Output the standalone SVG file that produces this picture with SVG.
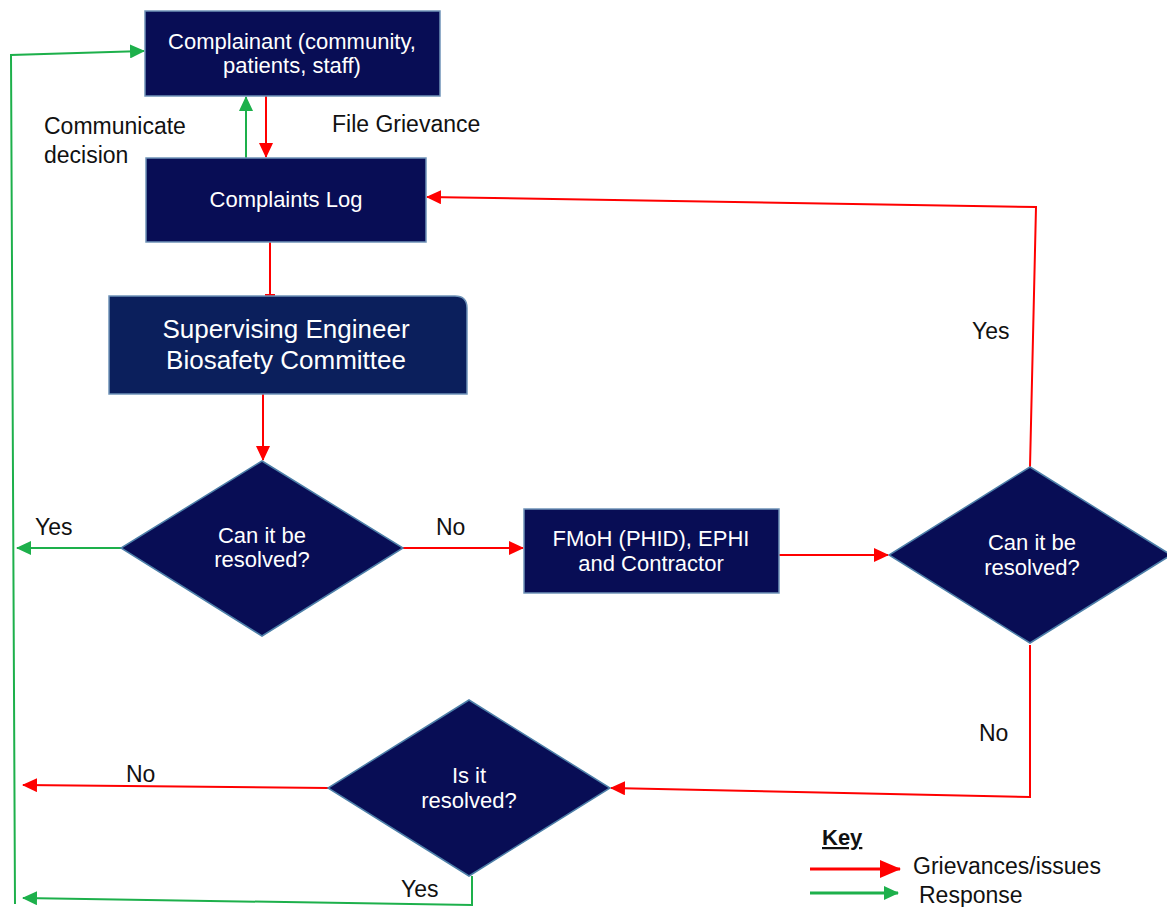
<svg xmlns="http://www.w3.org/2000/svg" width="1167" height="907" viewBox="0 0 1167 907">
<style>
.box{fill:#080D55;stroke:#6F93B8;stroke-width:1.5}
.box2{fill:#0B1F5C;stroke:#6F93B8;stroke-width:1.5}
.dia{fill:#080D55;stroke:#4D7FA8;stroke-width:1.5}
.wt{font-family:"Liberation Sans",Arial,sans-serif;font-size:22px;fill:#FFFFFF;text-anchor:middle}
.lb{font-family:"Liberation Sans",Arial,sans-serif;font-size:23px;fill:#111111}
.red{fill:none;stroke:#FF0000;stroke-width:2}
.grn{fill:none;stroke:#1DB04B;stroke-width:2}
</style>
<defs>
<marker id="ar" markerUnits="userSpaceOnUse" markerWidth="16" markerHeight="14" refX="14" refY="7" orient="auto"><path d="M0,0 L15,7 L0,14 Z" fill="#FF0000"/></marker>
<marker id="ag" markerUnits="userSpaceOnUse" markerWidth="16" markerHeight="14" refX="14" refY="7" orient="auto"><path d="M0,0 L15,7 L0,14 Z" fill="#1DB04B"/></marker>
<marker id="ark" markerUnits="userSpaceOnUse" markerWidth="22" markerHeight="18" refX="20" refY="9" orient="auto"><path d="M0,0 L21,9 L0,18 Z" fill="#FF0000"/></marker>
<marker id="agk" markerUnits="userSpaceOnUse" markerWidth="16" markerHeight="14" refX="14" refY="7" orient="auto"><path d="M0,0 L15,7 L0,14 Z" fill="#1DB04B"/></marker>
</defs>

<g id="connectors">
<path class="grn" d="M246,158 L246,97" marker-end="url(#ag)"/>
<path class="red" d="M266,96 L266,157" marker-end="url(#ar)"/>
<path class="red" d="M270,242 L270,295"/>
<path class="red" d="M265,295 L275,295"/>
<path class="red" d="M263,394 L263,460" marker-end="url(#ar)"/>
<path class="grn" d="M121,548 L17,548" marker-end="url(#ag)"/>
<path class="red" d="M403,548 L523,548" marker-end="url(#ar)"/>
<path class="red" d="M779,555 L888,555" marker-end="url(#ar)"/>
<path class="red" d="M1030,467 L1036,207 L427,197" marker-end="url(#ar)"/>
<path class="red" d="M1030,645 L1030,797 L611,788" marker-end="url(#ar)"/>
<path class="red" d="M328,788 L23,785" marker-end="url(#ar)"/>
<path class="grn" d="M472,876 L472,905 L23,898" marker-end="url(#ag)"/>
<path class="grn" d="M15,904 L11,55 L144,51" marker-end="url(#ag)"/>
</g>

<g id="complainant">
<rect class="box" x="145" y="11" width="295" height="85"/>
<text class="wt" x="292" y="49">Complainant (community,</text>
<text class="wt" x="292" y="73">patients, staff)</text>
</g>
<g id="complaints-log">
<rect class="box" x="146" y="158" width="280" height="84"/>
<text class="wt" x="286" y="207">Complaints Log</text>
</g>
<g id="supervising">
<path class="box2" d="M109,296 L455,296 Q467,296 467,308 L467,394 L109,394 Z"/>
<text class="wt" x="286" y="338" style="font-size:26px">Supervising Engineer</text>
<text class="wt" x="286" y="369" style="font-size:26px">Biosafety Committee</text>
</g>
<g id="decision1">
<polygon class="dia" points="262,461 403,548 262,636 121,548"/>
<text class="wt" x="262" y="543">Can it be</text>
<text class="wt" x="262" y="567">resolved?</text>
</g>
<g id="fmoh">
<rect class="box" x="524" y="509" width="255" height="84"/>
<text class="wt" x="651" y="546">FMoH (PHID), EPHI</text>
<text class="wt" x="651" y="571">and Contractor</text>
</g>
<g id="decision2">
<polygon class="dia" points="1030,467 1171,555 1030,643 889,555"/>
<text class="wt" x="1032" y="550">Can it be</text>
<text class="wt" x="1032" y="575">resolved?</text>
</g>
<g id="decision3">
<polygon class="dia" points="469,700 610,788 469,876 328,788"/>
<text class="wt" x="469" y="783">Is it</text>
<text class="wt" x="469" y="808">resolved?</text>
</g>

<g id="labels">
<text class="lb" x="44" y="134">Communicate</text>
<text class="lb" x="44" y="163">decision</text>
<text class="lb" x="332" y="132">File Grievance</text>
<text class="lb" x="35" y="535">Yes</text>
<text class="lb" x="436" y="535">No</text>
<text class="lb" x="972" y="339">Yes</text>
<text class="lb" x="979" y="741">No</text>
<text class="lb" x="126" y="782">No</text>
<text class="lb" x="401" y="897">Yes</text>
</g>

<g id="key">
<text x="822" y="845" style="font-family:'Liberation Sans',Arial,sans-serif;font-size:22px;font-weight:bold;fill:#111111;text-decoration:underline">Key</text>
<path d="M810,869 L900,869" stroke="#FF0000" stroke-width="3" fill="none" marker-end="url(#ark)"/>
<path d="M810,893 L898,893" stroke="#1DB04B" stroke-width="3" fill="none" marker-end="url(#agk)"/>
<text class="lb" x="913" y="874">Grievances/issues</text>
<text class="lb" x="919" y="903">Response</text>
</g>
</svg>
